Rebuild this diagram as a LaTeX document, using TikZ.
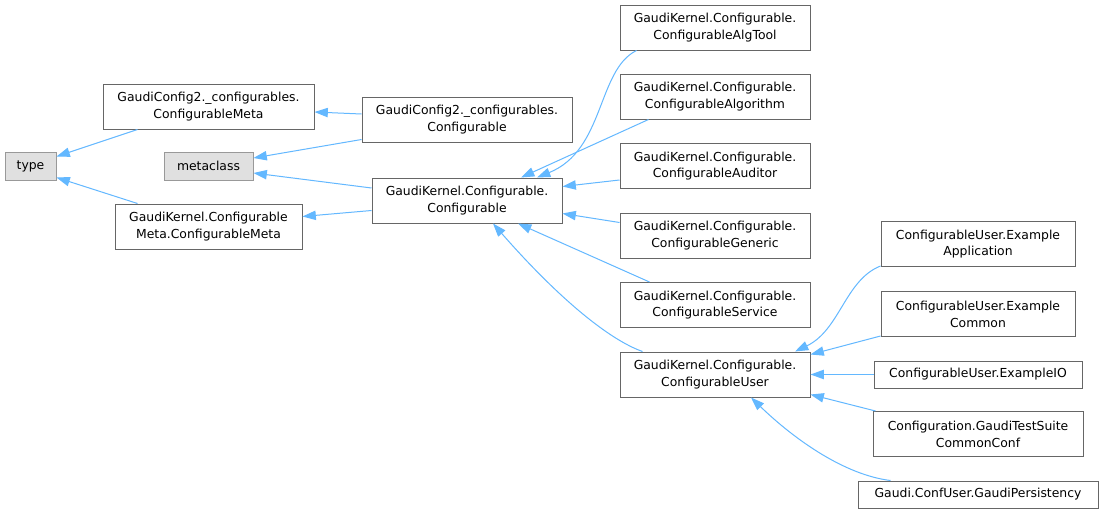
\documentclass[tikz,border=0pt]{standalone}
\usepackage{fontspec}
\setmainfont{DejaVu Sans}
\usetikzlibrary{calc,arrows.meta}
\definecolor{edgeblue}{HTML}{63B8FF}
\definecolor{boxgray}{HTML}{666666}
\definecolor{extgray}{HTML}{999999}
\definecolor{extfill}{HTML}{E0E0E0}
\begin{document}
\begin{tikzpicture}[x=0.75pt,y=-0.75pt,
  cls/.style={draw=boxgray,fill=white,line width=0.75pt,inner sep=0pt,align=center,
    font=\fontsize{9.3}{12.6}\selectfont},
  ext/.style={cls,draw=extgray,fill=extfill},
  edge/.style={draw=edgeblue,line width=0.75pt,{Triangle[length=10pt,width=7pt,fill=edgeblue]}-}]
\useasboundingbox[fill=white] (0,0) rectangle (1103,514);
% nodes
\node[ext,minimum width=51*0.75pt,minimum height=28*0.75pt] (type) at (30.5,166) {type};
\node[cls,minimum width=211*0.75pt,minimum height=45*0.75pt] (GC2Meta) at (208.5,106.5) {GaudiConfig2.\_configurables.\\ConfigurableMeta};
\node[ext,minimum width=89*0.75pt,minimum height=28*0.75pt] (metaclass) at (208.5,166) {metaclass};
\node[cls,minimum width=187*0.75pt,minimum height=45*0.75pt] (GKMeta) at (208.5,226.5) {GaudiKernel.Configurable\\Meta.ConfigurableMeta};
\node[cls,minimum width=210*0.75pt,minimum height=45*0.75pt] (GC2Conf) at (467,119.5) {GaudiConfig2.\_configurables.\\Configurable};
\node[cls,minimum width=190*0.75pt,minimum height=45*0.75pt] (GKConf) at (467,200.5) {GaudiKernel.Configurable.\\Configurable};
\node[cls,minimum width=190*0.75pt,minimum height=45*0.75pt] (AlgTool) at (715,27.5) {GaudiKernel.Configurable.\\ConfigurableAlgTool};
\node[cls,minimum width=190*0.75pt,minimum height=45*0.75pt] (Algorithm) at (715,96.5) {GaudiKernel.Configurable.\\ConfigurableAlgorithm};
\node[cls,minimum width=190*0.75pt,minimum height=45*0.75pt] (Auditor) at (715,166) {GaudiKernel.Configurable.\\ConfigurableAuditor};
\node[cls,minimum width=190*0.75pt,minimum height=45*0.75pt] (Generic) at (715,235.5) {GaudiKernel.Configurable.\\ConfigurableGeneric};
\node[cls,minimum width=190*0.75pt,minimum height=45*0.75pt] (Service) at (715,305) {GaudiKernel.Configurable.\\ConfigurableService};
\node[cls,minimum width=190*0.75pt,minimum height=45*0.75pt] (User) at (715,374.5) {GaudiKernel.Configurable.\\ConfigurableUser};
\node[cls,minimum width=194*0.75pt,minimum height=45*0.75pt] (ExApp) at (978,244) {ConfigurableUser.Example\\Application};
\node[cls,minimum width=194*0.75pt,minimum height=45*0.75pt] (ExCommon) at (978,314) {ConfigurableUser.Example\\Common};
\node[cls,minimum width=208*0.75pt,minimum height=27*0.75pt] (ExIO) at (978,374.5) {ConfigurableUser.ExampleIO};
\node[cls,minimum width=210*0.75pt,minimum height=45*0.75pt] (GTSCC) at (978,434) {Configuration.GaudiTestSuite\\CommonConf};
\node[cls,minimum width=240*0.75pt,minimum height=27*0.75pt] (Persist) at (978,494.5) {Gaudi.ConfUser.GaudiPersistency};
% edges (arrow at parent)
\draw[edge] ($(type.north east)+(0,5)$) -- ($(GC2Meta.south west)+(35,0)$);
\draw[edge] ($(type.south east)+(0,-3)$) -- ($(GKMeta.north west)+(23,0)$);
\draw[edge] ($(GC2Meta.east)+(0,5.5)$) -- ($(GC2Conf.west)+(0,-5.5)$);
\draw[edge] ($(metaclass.east)+(0,-8)$) -- ($(GC2Conf.south west)+(0,-3)$);
\draw[edge] ($(metaclass.east)+(0,7)$) -- ($(GKConf.west)+(0,-12.5)$);
\draw[edge] ($(GKMeta.east)+(0,-10)$) -- ($(GKConf.west)+(0,10)$);
\draw[edge] ($(GKConf.north)+(70,0)$) .. controls (605,150) and (597,70) .. ($(AlgTool.south west)+(17,0)$);
\draw[edge] ($(GKConf.north)+(54,0)$) -- ($(Algorithm.south west)+(29,0)$);
\draw[edge] ($(GKConf.east)+(0,-14)$) -- ($(Auditor.west)+(0,14)$);
\draw[edge] ($(GKConf.east)+(0,13)$) -- ($(Generic.west)+(0,-13)$);
\draw[edge] ($(GKConf.south)+(51,0)$) -- ($(Service.north west)+(30,0)$);
\draw[edge] ($(GKConf.south)+(26,0)$) .. controls (560,300) and (610,340) .. ($(User.north west)+(23,0)$);
\draw[edge] ($(User.north)+(80,0)$) .. controls (840,330) and (845,280) .. ($(ExApp.south west)+(0,-1)$);
\draw[edge] ($(User.north east)+(0,3)$) -- ($(ExCommon.south west)+(0,-1)$);
\draw[edge] (User.east) -- (ExIO.west);
\draw[edge] ($(User.south east)+(0,-3)$) -- ($(GTSCC.north west)+(3,0)$);
\draw[edge] ($(User.south)+(36,0)$) .. controls (795,440) and (845,475) .. ($(Persist.north west)+(33,0)$);
\end{tikzpicture}
\end{document}
